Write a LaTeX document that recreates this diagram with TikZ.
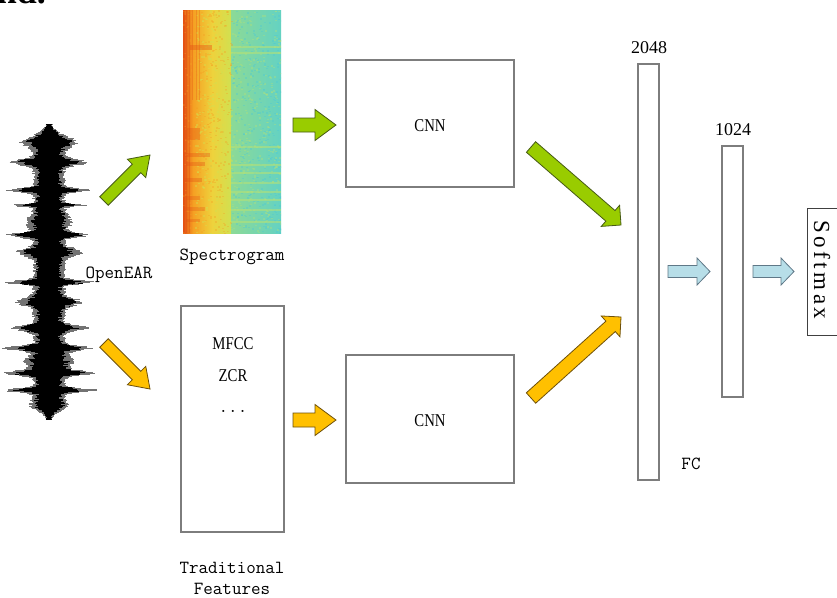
\documentclass[tikz,border=0pt]{standalone}
\usepackage{fontspec}
\setmainfont{Liberation Serif}
\newfontfamily\condserif[FakeStretch=0.82]{Liberation Serif}
\newfontfamily\smfont[LetterSpace=15]{Liberation Serif}
\usetikzlibrary{calc}

\definecolor{boxgray}{RGB}{125,125,125}
\definecolor{grfill}{RGB}{153,204,0}
\definecolor{grline}{RGB}{70,90,20}
\definecolor{orfill}{RGB}{255,192,0}
\definecolor{orline}{RGB}{110,80,10}
\definecolor{blfill}{RGB}{183,222,232}
\definecolor{blline}{RGB}{95,120,135}
\definecolor{spR}{RGB}{228,80,20}
\definecolor{spO}{RGB}{245,160,35}
\definecolor{spY}{RGB}{238,210,60}
\definecolor{spYG}{RGB}{210,224,80}
\definecolor{spC}{RGB}{140,218,150}
\definecolor{spC2}{RGB}{100,210,195}
\definecolor{spCy}{RGB}{75,200,215}
\definecolor{spStripe}{RGB}{185,226,115}

% block arrow: style, tail, tip, half body width, half head width, head length
\newcommand{\blockarr}[6]{%
  \coordinate (hb) at ($(#3)!#6!(#2)$);
  \draw[#1] ($(#2)!#4!90:(#3)$) -- ($(hb)!#4!90:(#3)$) -- ($(hb)!#5!90:(#3)$)
    -- (#3) -- ($(hb)!#5!-90:(#3)$) -- ($(hb)!#4!-90:(#3)$)
    -- ($(#2)!#4!-90:(#3)$) -- cycle;
}

\tikzset{
  box/.style={draw=boxgray, line width=1.4pt, fill=white, inner sep=0pt},
  serlbl/.style={font=\condserif\fontsize{18}{20}\selectfont, inner sep=0pt},
  numlbl/.style={font=\fontsize{18}{20}\selectfont, inner sep=0pt},
  monolbl/.style={font=\ttfamily\fontsize{18.5}{22}\selectfont, inner sep=0pt},
  garrow/.style={fill=grfill, draw=grline, line width=0.8pt, line join=miter},
  oarrow/.style={fill=orfill, draw=orline, line width=0.8pt, line join=miter},
  barrow/.style={fill=blfill, draw=blline, line width=0.8pt, line join=miter},
  declare function={
    gb(\t,\c,\s)=exp(-(min(abs(\t-\c)/\s,7))^2);
    wenv(\t)=3+11*(1-gb(\t,124,10))*(1-gb(\t,419,10))
      +12*gb(\t,142,6)+20*gb(\t,162,4)+24*gb(\t,190,2.5)+20*gb(\t,205,1.5)
      +6*gb(\t,222,9)+22*gb(\t,235,3)+15*gb(\t,252,5)+25*gb(\t,282,2.5)
      +15*gb(\t,302,5)+20*gb(\t,328,3.5)+25*gb(\t,348,3)+8*gb(\t,362,8)
      +24*gb(\t,373,3)+28*gb(\t,390,2.5)+5*gb(\t,405,6);
  }
}

\begin{document}
\begin{tikzpicture}[x=1pt, y=-1pt]
\clip (0,0) rectangle (837,597);
\fill[white] (0,0) rectangle (837,597);

% fragment of the running text above the figure
\node[anchor=base east, inner sep=0pt, font=\bfseries\fontsize{36}{36}\selectfont] (frag) at (46,4) {nd.};

% ---------- waveform ----------
\pgfmathsetseed{7}
\foreach \y in {124,124.5,...,419}{
  \pgfmathsetmacro{\e}{wenv(\y)}
  \pgfmathsetmacro{\gl}{\e*(0.9+0.3*rnd)}
  \pgfmathsetmacro{\gr}{\e*(0.9+0.3*rnd)}
  \pgfmathsetmacro{\bl}{\e*(0.65+0.3*rnd)}
  \pgfmathsetmacro{\br}{\e*(0.65+0.3*rnd)}
  \draw[line width=0.7pt, black!55] ({49-\gl},\y) -- ({49+\gr},\y);
  \draw[line width=0.9pt, black] ({49-\bl},\y) -- ({49+\br},\y);
}
\node[inner sep=0pt, minimum width=80pt, minimum height=295pt] (wave) at (49,271) {};

\node[monolbl, anchor=base] (openear) at (119,278) {OpenEAR};

% ---------- spectrogram ----------
\begin{scope}
  \clip (183,10) rectangle (281,233);
  \fill[left color=spR, right color=spO] (183,10) rectangle (193,233);
  \fill[left color=spO, right color=spY] (193,10) rectangle (212,233);
  \fill[left color=spY, right color=spYG] (212,10) rectangle (231,233);
  \fill[left color=spC, right color=spC2] (231,10) rectangle (281,233);
  \pgfmathsetseed{11}
  \foreach \i in {1,...,350}{
    \pgfmathsetmacro{\sx}{183+48*rnd}
    \pgfmathsetmacro{\sy}{10+223*rnd}
    \fill[spO, opacity=0.35] (\sx,\sy) rectangle ++(2,1.5);
  }
  \foreach \i in {1,...,300}{
    \pgfmathsetmacro{\sx}{195+36*rnd}
    \pgfmathsetmacro{\sy}{10+223*rnd}
    \fill[spYG, opacity=0.4] (\sx,\sy) rectangle ++(2,1.5);
  }
  \foreach \i in {1,...,350}{
    \pgfmathsetmacro{\sx}{231+50*rnd}
    \pgfmathsetmacro{\sy}{10+223*rnd}
    \fill[spCy, opacity=0.35] (\sx,\sy) rectangle ++(2,1.5);
  }
  \foreach \i in {1,...,300}{
    \pgfmathsetmacro{\sx}{231+50*rnd}
    \pgfmathsetmacro{\sy}{10+223*rnd}
    \fill[spStripe, opacity=0.35] (\sx,\sy) rectangle ++(2,1.5);
  }
  % horizontal bands in the upper frequencies
  \foreach \yy in {47,53,147,165,173,183,192,200,210,222}{
    \draw[spStripe, line width=2pt, opacity=0.55] (231,\yy) -- (281,\yy);
  }
  % strong low-frequency energy
  \foreach \xx in {184,186.5,189}{
    \draw[spR, line width=1pt, opacity=0.45] (\xx,10) -- (\xx,233);
  }
  \foreach \xx in {192,196,199}{
    \draw[spR, line width=0.8pt, opacity=0.3] (\xx,10) -- (\xx,100);
  }
  \fill[spR, opacity=0.4] (190,45) rectangle (212,50);
  \fill[spR, opacity=0.35] (183,128) rectangle (200,140);
  \fill[spR, opacity=0.35] (183,153) rectangle (210,157);
  \fill[spR, opacity=0.35] (186,162) rectangle (205,166);
  \fill[spR, opacity=0.35] (183,178) rectangle (202,182);
  \fill[spR, opacity=0.3] (186,196) rectangle (200,200);
  \fill[spR, opacity=0.3] (183,207) rectangle (205,211);
  \fill[spR, opacity=0.3] (186,219) rectangle (200,222);
\end{scope}
\node[inner sep=0pt, minimum width=98pt, minimum height=223pt] (spec) at (232,121.5) {};
\node[monolbl, anchor=base] (speclbl) at (232,260) {Spectrogram};

% ---------- traditional features ----------
\node[box, minimum width=103pt, minimum height=226pt] (trad) at (232.5,419) {};
\node[serlbl, anchor=base] (mfcc) at (233,349) {MFCC};
\node[serlbl, anchor=base] (zcr) at (233,381) {ZCR};
\node[monolbl, anchor=base] (dots) at (233,412) {...};
\node[monolbl, anchor=base] (tradlbl1) at (232,573) {Traditional};
\node[monolbl, anchor=base] (tradlbl2) at (232,594) {Features};

% ---------- CNN branches ----------
\node[box, minimum width=168pt, minimum height=127pt] (cnn1) at (430,123.5) {};
\node[serlbl, anchor=base] (cnn1t) at (430,131) {CNN};
\node[box, minimum width=168pt, minimum height=128pt] (cnn2) at (430,419) {};
\node[serlbl, anchor=base] (cnn2t) at (430,426) {CNN};

% ---------- fully connected layers ----------
\node[box, minimum width=21pt, minimum height=416pt] (fc1) at (648.5,272) {};
\node[numlbl, anchor=base] (fc1n) at (649,53) {2048};
\node[box, minimum width=21pt, minimum height=251pt] (fc2) at (732.5,271.5) {};
\node[numlbl, anchor=base] (fc2n) at (733,135) {1024};
\node[monolbl, anchor=base] (fclbl) at (691,469) {FC};

% ---------- softmax ----------
\node[draw=black!75, line width=1pt, fill=white, minimum width=34pt, minimum height=127pt, inner sep=0pt] (soft) at (824,271.5) {};
\node[rotate=-90, inner sep=0pt, font=\smfont\fontsize{23}{24}\selectfont] (softt) at (822,270) {Softmax};

% ---------- arrows ----------
\coordinate (wg0) at (104,201);  \coordinate (wg1) at (150,155);
\coordinate (wo0) at (104,343);  \coordinate (wo1) at (150,389);
\coordinate (sg0) at (293,125);  \coordinate (sg1) at (336,125);
\coordinate (so0) at (293,420);  \coordinate (so1) at (336,420);
\coordinate (cg0) at (531,147);  \coordinate (cg1) at (621,225);
\coordinate (co0) at (531,398);  \coordinate (co1) at (621,317);
\coordinate (fb0) at (668,271.5); \coordinate (fb1) at (710,271.5);
\coordinate (sb0) at (753,271.5); \coordinate (sb1) at (794,271.5);

\blockarr{garrow}{wg0}{wg1}{6pt}{13pt}{19pt}
\blockarr{oarrow}{wo0}{wo1}{6pt}{13pt}{19pt}
\blockarr{garrow}{sg0}{sg1}{7pt}{15.5pt}{21pt}
\blockarr{oarrow}{so0}{so1}{7pt}{15.5pt}{21pt}
\blockarr{garrow}{cg0}{cg1}{7pt}{14pt}{14pt}
\blockarr{oarrow}{co0}{co1}{7pt}{14pt}{14pt}
\blockarr{barrow}{fb0}{fb1}{6pt}{13.5pt}{13pt}
\blockarr{barrow}{sb0}{sb1}{6pt}{13.5pt}{13pt}
\end{tikzpicture}
\end{document}
